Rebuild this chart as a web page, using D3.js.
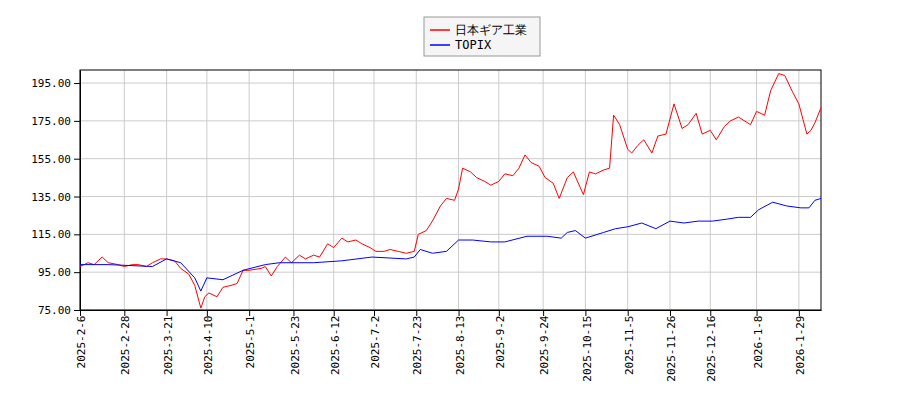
<!DOCTYPE html><html><head><meta charset="utf-8"><script src="https://d3js.org/d3.v7.min.js"></script>
<style>body{margin:0;background:#fff}text{font-family:"DejaVu Sans Mono",monospace;font-size:11px}</style></head><body><svg id="c" width="900" height="400"></svg><script>
const seriesNames=["日本ギア工業","TOPIX"];
const colors=["#ff0000","#0000ff"];
const tickLabels=["2025-2-6","2025-2-28","2025-3-21","2025-4-10","2025-5-1","2025-5-23","2025-6-12","2025-7-2","2025-7-23","2025-8-13","2025-9-2","2025-9-24","2025-10-15","2025-11-5","2025-11-26","2025-12-16","2026-1-8","2026-1-29"];
const yTicks=[75,95,115,135,155,175,195];
const redData=[["2025-2-6",98],["2025-2-10",100],["2025-2-13",99],["2025-2-17",103],["2025-2-20",100],["2025-2-25",99],["2025-2-28",98],["2025-3-4",99],["2025-3-7",99],["2025-3-11",98],["2025-3-14",100],["2025-3-18",102],["2025-3-21",102],["2025-3-25",101],["2025-3-28",97],["2025-4-1",94],["2025-4-4",88],["2025-4-7",76],["2025-4-9",82],["2025-4-11",84],["2025-4-15",82],["2025-4-18",87],["2025-4-22",88],["2025-4-25",89],["2025-4-28",96],["2025-5-1",96],["2025-5-7",97],["2025-5-9",98],["2025-5-12",93],["2025-5-15",98],["2025-5-19",103],["2025-5-22",100],["2025-5-26",104],["2025-5-29",102],["2025-6-2",104],["2025-6-5",103],["2025-6-9",110],["2025-6-12",108],["2025-6-16",113],["2025-6-19",111],["2025-6-23",112],["2025-6-26",110],["2025-6-30",108],["2025-7-3",106],["2025-7-7",106],["2025-7-10",107],["2025-7-14",106],["2025-7-18",105],["2025-7-22",106],["2025-7-24",115],["2025-7-28",117],["2025-7-31",122],["2025-8-4",130],["2025-8-7",134],["2025-8-11",133],["2025-8-13",139],["2025-8-15",150],["2025-8-19",148],["2025-8-22",145],["2025-8-26",143],["2025-8-29",141],["2025-9-2",143],["2025-9-5",147],["2025-9-9",146],["2025-9-12",150],["2025-9-15",157],["2025-9-18",153],["2025-9-22",151],["2025-9-25",145],["2025-9-29",142],["2025-10-2",134],["2025-10-6",145],["2025-10-9",148],["2025-10-14",136],["2025-10-17",148],["2025-10-20",147],["2025-10-24",149],["2025-10-27",150],["2025-10-29",178],["2025-11-1",173],["2025-11-5",160],["2025-11-7",158],["2025-11-10",162],["2025-11-13",165],["2025-11-17",158],["2025-11-20",167],["2025-11-24",168],["2025-11-28",184],["2025-12-2",171],["2025-12-5",173],["2025-12-9",179],["2025-12-12",168],["2025-12-16",170],["2025-12-19",165],["2025-12-23",172],["2025-12-26",175],["2025-12-30",177],["2026-1-5",173],["2026-1-8",180],["2026-1-12",178],["2026-1-15",191],["2026-1-19",200],["2026-1-22",199],["2026-1-26",190],["2026-1-29",184],["2026-2-2",168],["2026-2-4",170],["2026-2-6",174],["2026-2-9",182]];
const blueData=[["2025-2-6",99],["2025-2-20",99],["2025-3-14",98],["2025-3-21",102],["2025-3-28",100],["2025-4-4",92],["2025-4-7",85],["2025-4-10",92],["2025-4-18",91],["2025-4-28",96],["2025-5-9",99],["2025-5-16",100],["2025-6-2",100],["2025-6-16",101],["2025-7-1",103],["2025-7-18",102],["2025-7-22",103],["2025-7-25",107],["2025-7-31",105],["2025-8-7",106],["2025-8-13",112],["2025-8-20",112],["2025-8-29",111],["2025-9-5",111],["2025-9-16",114],["2025-9-26",114],["2025-10-3",113],["2025-10-6",116],["2025-10-10",117],["2025-10-15",113],["2025-10-24",116],["2025-10-30",118],["2025-11-5",119],["2025-11-12",121],["2025-11-19",118],["2025-11-26",122],["2025-12-3",121],["2025-12-10",122],["2025-12-17",122],["2025-12-24",123],["2025-12-30",124],["2026-1-5",124],["2026-1-9",128],["2026-1-16",132],["2026-1-23",130],["2026-1-30",129],["2026-2-3",129],["2026-2-6",133],["2026-2-9",134]];
const p=d3.timeParse("%Y-%-m-%-d");
const svg=d3.select("#c");
const L=80,R=821,T=70,B=310;
const x=d3.scaleTime().domain([p("2025-2-6"),p("2026-2-9")]).range([L,R]);
const y=d3.scaleLinear().domain([75,201.9]).range([B,T]);
const g=svg.append("g");
tickLabels.forEach(t=>g.append("line").attr("x1",x(p(t))).attr("x2",x(p(t))).attr("y1",T).attr("y2",B).attr("stroke","#ccc"));
yTicks.forEach(t=>g.append("line").attr("x1",L).attr("x2",R).attr("y1",y(t)).attr("y2",y(t)).attr("stroke","#ccc"));
const xa=svg.append("g").attr("transform",`translate(0,${B})`).call(d3.axisBottom(x).tickValues(tickLabels.map(p)).tickFormat((d,i)=>tickLabels[i]).tickSizeOuter(0));
xa.selectAll("text").attr("transform","rotate(-90)").attr("text-anchor","end").attr("dx","-0.5em").attr("dy","-0.4em").attr("fill","#000");
svg.append("g").attr("transform",`translate(${L},0)`).call(d3.axisLeft(y).tickValues(yTicks).tickFormat(d3.format(".2f")).tickSizeOuter(0)).selectAll("text").attr("fill","#000");
svg.append("rect").attr("x",L).attr("y",T).attr("width",R-L).attr("height",B-T).attr("fill","none").attr("stroke","#000");
const line=d3.line().x(d=>x(p(d[0]))).y(d=>y(d[1]));
[redData,blueData].forEach((d,i)=>svg.append("path").attr("d",line(d)).attr("fill","none").attr("stroke",colors[i]).attr("stroke-width",1));
const lg=svg.append("g");
lg.append("rect").attr("x",424).attr("y",17).attr("width",116).attr("height",39).attr("fill","#f5f5f5").attr("stroke","#999");
seriesNames.forEach((n,i)=>{const yy=30+i*15;
lg.append("line").attr("x1",430).attr("x2",450).attr("y1",yy).attr("y2",yy).attr("stroke",colors[i]).attr("stroke-width",1.5);
lg.append("text").attr("x",455).attr("y",yy+4).text(n).style("font-size","12px");});
</script></body></html>
